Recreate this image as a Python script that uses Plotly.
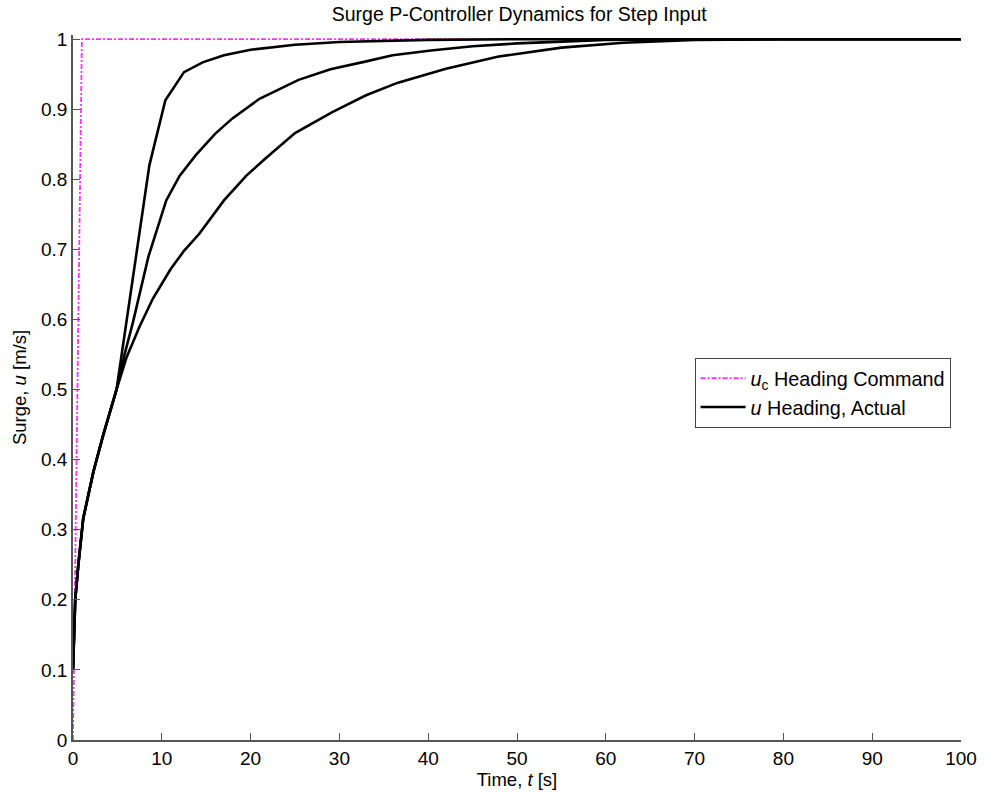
import plotly.graph_objects as go

# Commanded surge speed (ramped step)
t_cmd = [0, 1, 100]
u_cmd = [0, 1, 1]

# Shared early response of all three gains
t_start = [0, 0.25, 0.6, 1.15, 2.3, 3.4, 4.9]
u_start = [0.1, 0.2, 0.25, 0.316, 0.383, 0.435, 0.5]

# High-gain response
t_fast = t_start + [6.5, 8.6, 10.4, 12.5, 14.6, 17, 20, 25, 30, 40, 50, 60, 100]
u_fast = u_start + [0.64, 0.82, 0.913, 0.953, 0.967, 0.977, 0.985, 0.992, 0.996, 0.999, 1, 1, 1]

# Medium-gain response
t_mid = t_start + [5.8, 6.75, 8.5, 10.5, 12, 13.85, 16, 17.95, 21, 25.4, 29, 32.9, 36, 40.3, 45, 50, 55, 60, 70, 100]
u_mid = u_start + [0.55, 0.596, 0.69, 0.77, 0.805, 0.835, 0.865, 0.887, 0.915, 0.942, 0.957, 0.968, 0.977, 0.984, 0.99, 0.994, 0.997, 0.999, 1, 1]

# Low-gain response
t_slow = t_start + [6, 7.5, 9, 11, 12.5, 14.2, 17, 19.5, 21.7, 25, 29.2, 33, 36.6, 42, 47.8, 55, 62, 70, 80, 100]
u_slow = u_start + [0.545, 0.59, 0.63, 0.672, 0.698, 0.722, 0.77, 0.805, 0.83, 0.866, 0.896, 0.92, 0.938, 0.958, 0.975, 0.988, 0.995, 0.999, 1, 1]

x_ticks = list(range(0, 101, 10))
y_ticks = [i / 10 for i in range(11)]
y_tick_text = ["0", "0.1", "0.2", "0.3", "0.4", "0.5", "0.6", "0.7", "0.8", "0.9", "1"]

FONT = "Liberation Sans, Arial, sans-serif"

fig = go.Figure()
fig.add_trace(go.Scatter(
    x=t_cmd, y=u_cmd, mode="lines",
    line=dict(color="#FF33FF", width=1.8, dash="5px,2px,2px,2px"),
    name="<i>u</i><sub>c</sub> Heading Command",
))
for i, (tt, uu) in enumerate([(t_fast, u_fast), (t_mid, u_mid), (t_slow, u_slow)]):
    fig.add_trace(go.Scatter(
        x=tt, y=uu, mode="lines",
        line=dict(color="black", width=2.6),
        name="<i>u</i> Heading, Actual", showlegend=(i == 0),
    ))

fig.update_layout(
    width=989, height=799,
    margin=dict(l=73, r=20, t=35, b=56),
    paper_bgcolor="white", plot_bgcolor="white",
    font=dict(family=FONT, color="black", size=18),
    title=dict(text="Surge P-Controller Dynamics for Step Input",
               x=0.525, xanchor="center", y=0.982, yanchor="middle",
               font=dict(size=19.5)),
    legend=dict(x=0.700, y=0.542, xanchor="left", yanchor="top",
                bordercolor="#444", borderwidth=1, bgcolor="white",
                itemwidth=45, font=dict(size=19.8), tracegroupgap=0),
    showlegend=True,
)
fig.update_xaxes(
    range=[0, 100], tickvals=x_ticks, ticks="inside", ticklen=7, tickcolor="#555",
    showline=True, linecolor="#555", linewidth=1.5, showgrid=False, zeroline=False,
    tickfont=dict(size=19),
    title=dict(text="Time, <i>t</i> [s]", standoff=6, font=dict(size=18.5)),
)
fig.update_yaxes(
    range=[0, 1.006], tickvals=y_ticks, ticktext=y_tick_text, ticks="inside", ticklen=7,
    tickcolor="#555", showline=True, linecolor="#555", linewidth=1.5,
    showgrid=False, zeroline=False, tickfont=dict(size=19),
    title=dict(text="Surge, <i>u</i> [m/s]", standoff=10, font=dict(size=18.5)),
)

fig.write_html("out.html")
